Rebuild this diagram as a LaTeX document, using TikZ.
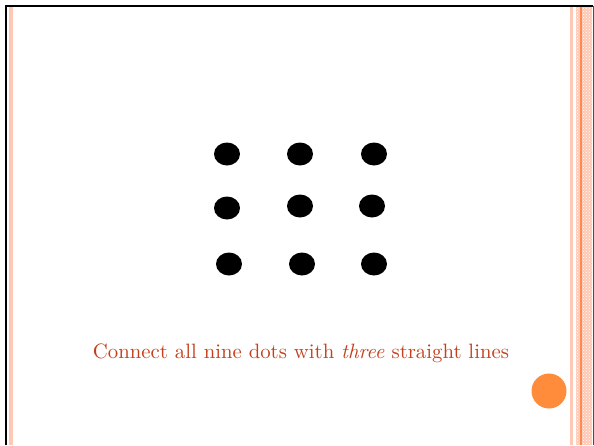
\documentclass[tikz,border=0pt]{standalone}
\usetikzlibrary{patterns, shapes.geometric}
\definecolor{salmon}{HTML}{FFC8B4}
\definecolor{stripe}{HTML}{FF8A50}
\definecolor{caption}{HTML}{C4401C}
\definecolor{bullet}{HTML}{FF8C3A}

\begin{document}
\begin{tikzpicture}[
  x=1pt, y=-1pt,
  dot/.style     = {ellipse, fill=black, minimum width=26pt, minimum height=23pt, inner sep=0pt},
  hint/.style    = {text=caption, anchor=base},
  band/.style    = {fill=salmon, draw=none},
]
  \useasboundingbox (0,0) rectangle (594,445);

  % ---------------------------------------------------------------- frame
  \fill[band] (9,6) rectangle (12.5,445);
  \fill[band] (570,6) rectangle (573,445);
  \fill[band] (576,6) rectangle (592,445);
  \fill[pattern=crosshatch dots, pattern color=white] (576,6) rectangle (592,445);
  \draw[stripe, line width=1.2pt] (581,6) -- (581,445);
  \draw[black, line width=2pt] (6,445) -- (6,6) -- (593,6);
  \draw[black!70, line width=1pt] (593,6) -- (593,445);

  % ---------------------------------------------------------------- dots
  \node[dot] (d11) at (227,154) {};
  \node[dot] (d12) at (300,154) {};
  \node[dot] (d13) at (374,154) {};
  \node[dot] (d21) at (227,208) {};
  \node[dot] (d22) at (300,206) {};
  \node[dot] (d23) at (372,206) {};
  \node[dot] (d31) at (229,264) {};
  \node[dot] (d32) at (302,264) {};
  \node[dot] (d33) at (374,264) {};

  % ---------------------------------------------------------------- caption
  \node[hint] (task) at (301,358)
    {\resizebox{416pt}{!}{Connect all nine dots with \emph{three} straight lines}};

  % ---------------------------------------------------------------- corner mark
  \node[circle, fill=bullet, minimum size=35pt, inner sep=0pt] (mark) at (549,391) {};

\end{tikzpicture}
\end{document}
